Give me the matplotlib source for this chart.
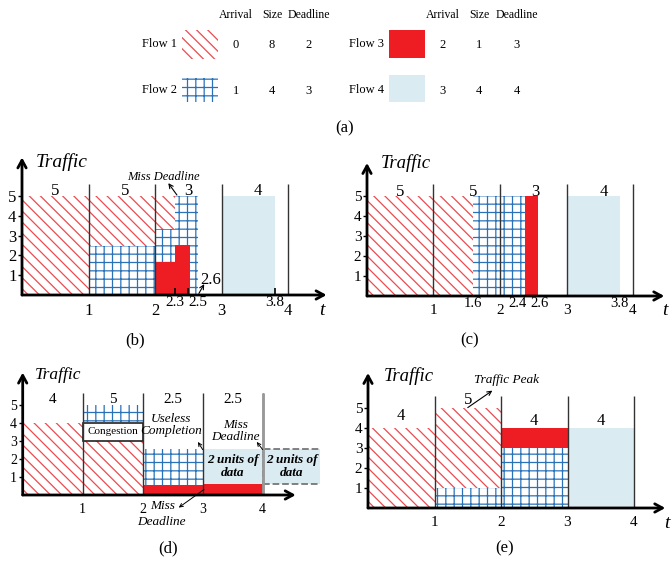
import matplotlib
matplotlib.use('Agg')
import matplotlib.pyplot as plt
from matplotlib.patches import Rectangle
import numpy as np

plt.rcParams['font.family'] = ['Liberation Serif', 'DejaVu Serif']
plt.rcParams['hatch.linewidth'] = 0.9

W, H = 671, 564
RED = '#EE1D23'
HATCH_RED = '#EE4A50'
GRID_BLUE = '#2A72B8'
LIGHT_BLUE = '#DAEBF2'
DIAG = '\\\\\\'

# ---- panel (a): flow table ----
flow_names = ['Flow 1', 'Flow 2', 'Flow 3', 'Flow 4']
arrivals = [0, 1, 2, 3]
sizes = [8, 4, 1, 4]
deadlines = [2, 3, 3, 4]
headers = ['Arrival', 'Size', 'Deadline']

# ---- panel (b) ----  (start, end, low, high) per flow
b_f1 = dict(start=[0, 1, 2], end=[1, 2, 2.3], low=[0, 2.5, 3.35], high=[5, 5, 5])
b_f2 = dict(start=[1, 2, 2.3], end=[2, 2.3, 2.65], low=[0, 0, 0], high=[2.5, 3.35, 5])
b_f3 = dict(start=[2, 2.3], end=[2.3, 2.53], low=[0, 0], high=[1.65, 2.52])
b_f4 = dict(start=[3], end=[3.8], low=[0], high=[5])
b_totals = ['5', '5', '3', '4']
b_total_x = [0.5, 1.55, 2.5, 3.55]
b_major = [1, 2, 3, 4]
b_minor = [2.3, 2.5, 3.8]
b_minor_ha = ['center', 'left', 'center']

# ---- panel (c) ----
c_f1 = dict(start=[0], end=[1.6], low=[0], high=[5])
c_f2 = dict(start=[1.6], end=[2.38], low=[0], high=[5])
c_f3 = dict(start=[2.38], end=[2.57], low=[0], high=[5])
c_f4 = dict(start=[3], end=[3.8], low=[0], high=[5])
c_totals = ['5', '5', '3', '4']
c_total_x = [0.5, 1.6, 2.53, 3.56]
c_major = [1, 2, 3, 4]
c_minor = [1.6, 2.4, 2.6, 3.8]
c_minor_ha = ['center', 'right', 'center', 'center']

# ---- panel (d) ----
d_f1 = dict(start=[0, 1], end=[1, 2], low=[0, 0], high=[4, 3])
d_f2 = dict(start=[1, 2], end=[2, 3], low=[4.05, 0.55], high=[5, 2.55])
d_f3 = dict(start=[2, 3], end=[3, 4], low=[0, 0], high=[0.55, 0.62])
d_f4 = dict(start=[3], end=[4], low=[0.62], high=[2.55])
d_late = dict(start=[4], end=[4.97], low=[0.62], high=[2.55])
d_cong = dict(start=[1], end=[2], low=[3], high=[4])
d_totals = ['4', '5', '2.5', '2.5']
d_total_x = [0.5, 1.5, 2.5, 3.5]
d_major = [1, 2, 3, 4]

# ---- panel (e) ----
e_f1 = dict(start=[0, 1], end=[1, 2], low=[0, 1], high=[4, 5])
e_f2 = dict(start=[1, 2], end=[2, 3], low=[0, 0], high=[1, 3])
e_f3 = dict(start=[2], end=[3], low=[3], high=[4])
e_f4 = dict(start=[3], end=[4], low=[0], high=[4])
e_totals = ['4', '5', '4', '4']
e_total_x = [0.5, 1.5, 2.5, 3.5]
e_total_y = [4.58, 5.4, 4.33, 4.33]
e_major = [1, 2, 3, 4]

yticks = [1, 2, 3, 4, 5]

fig = plt.figure(figsize=(W / 100, H / 100), dpi=100)

# full figure axes for the table and sub captions (pixel coordinates)
lay = fig.add_axes([0, 0, 1, 1])
lay.set_xlim(0, W)
lay.set_ylim(H, 0)
lay.axis('off')

col_x = [[236, 272, 309], [443, 479, 517]]
name_x = [177, 384]
row_y = [44, 90]
swatch_x = [182, 389]
for side in range(2):
    for k, hname in enumerate(headers):
        lay.text(col_x[side][k], 15, hname, ha='center', va='center', fontsize=8.5)
for i, name in enumerate(flow_names):
    side, row = i // 2, i % 2
    y = row_y[row]
    lay.text(name_x[side], y, name, ha='right', va='center', fontsize=9)
    for k, v in enumerate([arrivals[i], sizes[i], deadlines[i]]):
        lay.text(col_x[side][k], y + 1, str(v), ha='center', va='center', fontsize=9)
    sx0 = swatch_x[side]
    if i == 0:
        lay.add_patch(Rectangle((sx0, y - 14), 36, 29, facecolor='white', edgecolor=HATCH_RED,
                                lw=0, hatch=DIAG))
    elif i == 1:
        lay.add_patch(Rectangle((sx0, y - 12), 36, 24, facecolor='white', edgecolor=GRID_BLUE,
                                lw=0, hatch='++'))
    elif i == 2:
        lay.add_patch(Rectangle((sx0, y - 14), 36, 28, facecolor=RED, lw=0))
    else:
        lay.add_patch(Rectangle((sx0, y - 15), 36, 27, facecolor=LIGHT_BLUE, lw=0))

for lab, (lx, ly) in zip(['(a)', '(b)', '(c)', '(d)', '(e)'],
                         [(345, 128), (135, 340), (470, 340), (168, 548), (505, 548)]):
    lay.text(lx, ly, lab, ha='center', va='center', fontsize=12)


def panel(ox, oy, sx, sy, xlim, ylim):
    x0, x1 = xlim
    y0, y1 = ylim
    ax = fig.add_axes([(ox + x0 * sx) / W, 1 - (oy - y0 * sy) / H,
                       (x1 - x0) * sx / W, (y1 - y0) * sy / H])
    ax.set_xlim(x0, x1)
    ax.set_ylim(y0, y1)
    ax.patch.set_visible(False)
    for s in ['top', 'right']:
        ax.spines[s].set_visible(False)
    for s in ['left', 'bottom']:
        ax.spines[s].set_position(('data', 0))
        ax.spines[s].set_visible(False)
    return ax


def draw(ax, f, kind):
    st = np.array(f['start'])
    w = np.array(f['end']) - st
    lo = np.array(f['low'])
    h = np.array(f['high']) - lo
    if kind == 1:
        ax.bar(st, h, w, bottom=lo, align='edge', facecolor='white', edgecolor=HATCH_RED,
               lw=0, hatch=DIAG, zorder=1)
    elif kind == 2:
        ax.bar(st, h, w, bottom=lo, align='edge', facecolor='white', edgecolor=GRID_BLUE,
               lw=0, hatch='++', zorder=1)
    elif kind == 3:
        ax.bar(st, h, w, bottom=lo, align='edge', color=RED, lw=0, zorder=1)
    elif kind == 4:
        ax.bar(st, h, w, bottom=lo, align='edge', color=LIGHT_BLUE, lw=0, zorder=1)


def axes_deco(ax, xend, ytop, major, minor=None, minor_ha=None, fs=11, mfs=11, tfs=14,
              ttxt=(0.2, 6.65), tlabel=None, vtop=5.6):
    ax.annotate('', xy=(xend, 0), xytext=(0, 0),
                arrowprops=dict(arrowstyle='->,head_length=0.55,head_width=0.3', lw=2,
                                color='k', shrinkA=0, shrinkB=0), zorder=5)
    ax.annotate('', xy=(0, ytop), xytext=(0, 0),
                arrowprops=dict(arrowstyle='->,head_length=0.55,head_width=0.3', lw=2,
                                color='k', shrinkA=0, shrinkB=0), zorder=5)
    ax.vlines(major, 0, vtop, color='#333333', lw=1, zorder=3)
    ax.set_yticks(yticks)
    ax.set_yticklabels([str(v) for v in yticks], fontsize=fs)
    ax.tick_params(axis='y', direction='out', length=3, width=1, pad=1)
    ax.set_xticks(major)
    ax.set_xticklabels([str(v) for v in major], fontsize=fs)
    ax.tick_params(axis='x', which='major', length=0, pad=6)
    if minor:
        ax.set_xticks(minor, minor=True)
        labels = ax.set_xticklabels([str(v) for v in minor], minor=True, fontsize=mfs)
        for lab, ha in zip(labels, minor_ha):
            lab.set_ha(ha)
        ax.tick_params(axis='x', which='minor', length=0, pad=1)
    ax.text(ttxt[0], ttxt[1], 'Traffic', style='italic', fontsize=tfs, ha='left', va='center')
    if tlabel:
        ax.text(tlabel[0], tlabel[1], 't', style='italic', fontsize=14, ha='center', va='center')


small_arrow = dict(arrowstyle='->,head_length=0.3,head_width=0.15', lw=0.8, shrinkA=0, shrinkB=0)
tiny_arrow = dict(arrowstyle='->,head_length=0.25,head_width=0.12', lw=0.7, shrinkA=0, shrinkB=0)

# ---- (b) ----
axb = panel(22, 295, 66.5, 19.8, (-0.33, 4.7), (-0.9, 7.3))
for f, k in [(b_f1, 1), (b_f2, 2), (b_f3, 3), (b_f4, 4)]:
    draw(axb, f, k)
axes_deco(axb, 4.58, 6.95, b_major, b_minor, b_minor_ha, fs=12, mfs=11, ttxt=(0.2, 6.7),
          tlabel=(4.51, -0.8))
axb.tick_params(axis='x', which='minor', direction='in', length=5, width=1.2)
for x, s in zip(b_total_x, b_totals):
    axb.text(x, 5.27, s, ha='center', va='center', fontsize=12)
axb.text(2.13, 5.96, 'Miss Deadline', style='italic', fontsize=9, ha='center', va='center')
axb.annotate('', xy=(2.2, 5.65), xytext=(2.33, 5.05), arrowprops=small_arrow)
axb.text(2.84, 0.76, '2.6', fontsize=12, ha='center', va='center')
axb.annotate('', xy=(2.74, 0.55), xytext=(2.66, 0.08), arrowprops=small_arrow)

# ---- (c) ----
axc = panel(367, 296, 66.5, 20, (-0.33, 4.55), (-0.9, 7.3))
for f, k in [(c_f1, 1), (c_f2, 2), (c_f3, 3), (c_f4, 4)]:
    draw(axc, f, k)
axes_deco(axc, 4.47, 6.65, c_major, c_minor, c_minor_ha, fs=11, mfs=10.5, tfs=13.5,
          ttxt=(0.2, 6.65), tlabel=(4.48, -0.72))
for x, s in zip(c_total_x, c_totals):
    axc.text(x, 5.2, s, ha='center', va='center', fontsize=12)

# ---- (d) ----
axd = panel(22.7, 495, 60, 18, (-0.35, 4.95), (-2.0, 7.2))
for f, k in [(d_f1, 1), (d_f2, 2), (d_f3, 3), (d_f4, 4)]:
    draw(axd, f, k)
st = np.array(d_late['start'])
axd.bar(st, np.array(d_late['high']) - np.array(d_late['low']), np.array(d_late['end']) - st,
        bottom=d_late['low'], align='edge', facecolor=LIGHT_BLUE, edgecolor='#777777',
        lw=1.3, ls='--', zorder=1)
st = np.array(d_cong['start'])
axd.bar(st, np.array(d_cong['high']) - np.array(d_cong['low']), np.array(d_cong['end']) - st,
        bottom=d_cong['low'], align='edge', facecolor='white', edgecolor='#222222',
        lw=1.2, zorder=2)
axd.text(1.5, 3.5, 'Congestion', fontsize=8, ha='center', va='center', zorder=4)
axes_deco(axd, 4.55, 6.8, d_major, fs=10, tfs=12.5, ttxt=(0.2, 6.67), vtop=5.65)
axd.vlines([4], 0, 5.65, color='#999999', lw=2, zorder=3)
for x, s in zip(d_total_x, d_totals):
    axd.text(x, 5.3, s, ha='center', va='center', fontsize=11)
axd.text(2.47, 3.9, 'Useless\nCompletion', style='italic', fontsize=9.5, ha='center',
         va='center', linespacing=1.05)
axd.annotate('', xy=(2.92, 2.95), xytext=(3.0, 2.52), arrowprops=tiny_arrow)
axd.text(3.55, 3.55, 'Miss\nDeadline', style='italic', fontsize=9.5, ha='center', va='center',
         linespacing=1.05)
axd.annotate('', xy=(3.9, 2.95), xytext=(4.0, 2.52), arrowprops=tiny_arrow)
axd.text(2.13, -0.62, 'Miss', style='italic', fontsize=9.5, ha='left', va='center')
axd.text(2.32, -1.5, 'Deadline', style='italic', fontsize=9.5, ha='center', va='center')
axd.annotate('', xy=(2.6, -0.7), xytext=(3.02, 0.3), arrowprops=tiny_arrow)
for x in [3.5, 4.48]:
    axd.text(x, 1.58, '2 units of\ndata', style='italic', weight='bold', fontsize=9.5,
             ha='center', va='center', linespacing=1.15, zorder=4)

# ---- (e) ----
axe = panel(368, 508, 66.5, 20, (-0.35, 4.55), (-1.0, 7.0))
for f, k in [(e_f1, 1), (e_f2, 2), (e_f3, 3), (e_f4, 4)]:
    draw(axe, f, k)
axes_deco(axe, 4.47, 6.75, e_major, fs=11, tfs=13.5, ttxt=(0.23, 6.6), tlabel=(4.5, -0.75))
for x, y, s in zip(e_total_x, e_total_y, e_totals):
    axe.text(x, y, s, ha='center', va='center', fontsize=12)
axe.text(2.08, 6.4, 'Traffic Peak', style='italic', fontsize=9.5, ha='center', va='center')
axe.annotate('', xy=(1.87, 5.87), xytext=(1.5, 5.02), arrowprops=small_arrow)

fig.savefig('out.png', dpi=100)
